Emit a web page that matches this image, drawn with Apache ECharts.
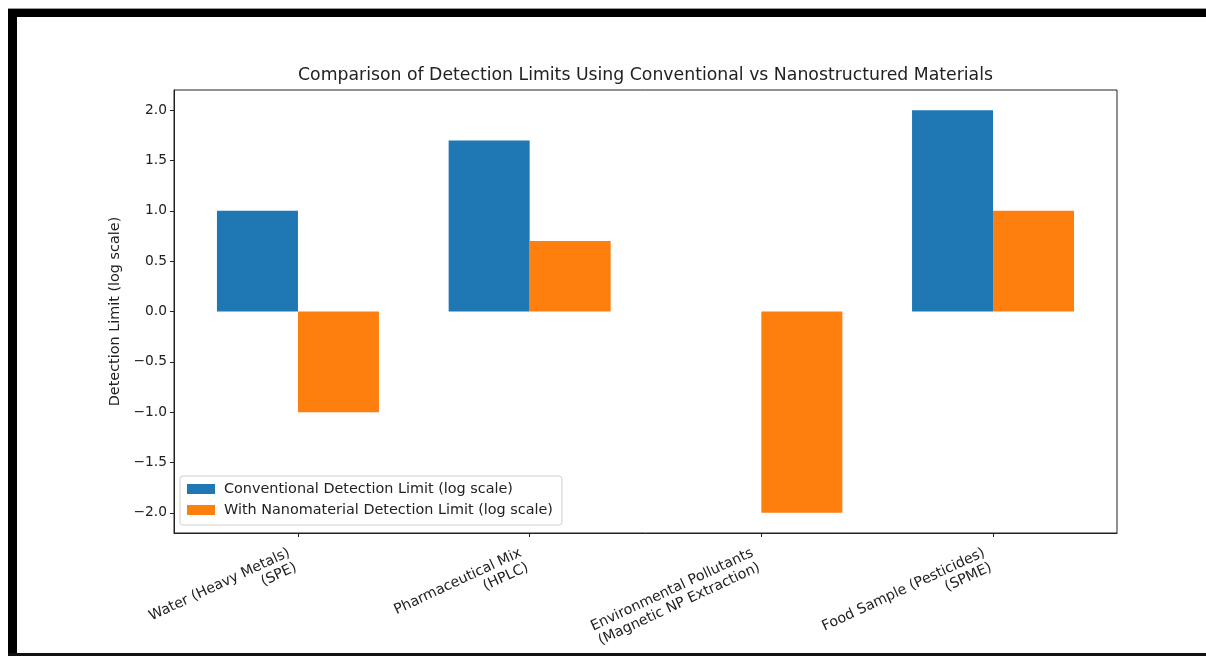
<!DOCTYPE html>
<html>
<head>
<meta charset="utf-8">
<script src="https://cdn.jsdelivr.net/npm/echarts@6/dist/echarts.min.js"></script>
<style>
html,body{margin:0;padding:0;background:#fff;}
#chart{width:1206px;height:656px;}
</style>
</head>
<body>
<div id="chart"></div>
<script>
const categories = [
  "Water (Heavy Metals)\n(SPE)",
  "Pharmaceutical Mix\n(HPLC)",
  "Environmental Pollutants\n(Magnetic NP Extraction)",
  "Food Sample (Pesticides)\n(SPME)"
];
const conventional = [1.0, 1.699, 0.0, 2.0];
const nanomaterial = [-1.0, 0.699, -2.0, 1.0];
const yTicks = [-2.0, -1.5, -1.0, -0.5, 0.0, 0.5, 1.0, 1.5, 2.0];
const xTicks = [0, 1, 2, 3];

const FONT = 'DejaVu Sans';
const chart = echarts.init(document.getElementById('chart'), null, {renderer: 'canvas'});

const fmtY = v => (Math.round(v * 10) / 10).toFixed(1).replace('-', '\u2212');

const option = {
  backgroundColor: '#fff',
  animation: false,
  textStyle: {fontFamily: FONT},
  title: {
    text: 'Comparison of Detection Limits Using Conventional vs Nanostructured Materials',
    left: 640.5, top: 62, textAlign: 'center',
    textStyle: {fontFamily: FONT, fontSize: 17.3, fontWeight: 'normal', color: '#222'}
  },
  legend: {
    orient: 'vertical',
    left: 180, top: 476,
    itemWidth: 28, itemHeight: 10, itemGap: 7,
    padding: [6, 9, 8, 7],
    borderColor: '#d0d0d0', borderWidth: 1, borderRadius: 3,
    backgroundColor: 'rgba(255,255,255,0.8)',
    icon: 'rect',
    textStyle: {fontFamily: FONT, fontSize: 14.4, color: '#222', padding: [0, 0, 0, 4]},
    data: ['Conventional Detection Limit (log scale)', 'With Nanomaterial Detection Limit (log scale)']
  },
  grid: {
    left: 174, right: 1206 - 1117, top: 90, bottom: 656 - 533,
    show: true, borderColor: '#222', borderWidth: 1, backgroundColor: 'transparent'
  },
  xAxis: {
    type: 'value', min: -0.535, max: 3.535,
    splitLine: {show: false},
    axisLine: {show: true, onZero: false, lineStyle: {color: '#222'}},
    axisTick: {show: true, length: 4, lineStyle: {color: '#222'}, customValues: xTicks},
    axisLabel: {
      show: true, rotate: 25, margin: 24, customValues: xTicks,
      fontFamily: FONT, fontSize: 14.2, color: '#222', lineHeight: 16,
      padding: [0, 6, 0, 0],
      formatter: v => categories[Math.round(v)] || ''
    }
  },
  yAxis: {
    type: 'value', min: -2.2, max: 2.2,
    name: 'Detection Limit (log scale)', nameLocation: 'middle', nameGap: 52, nameRotate: 90,
    nameTextStyle: {fontFamily: FONT, fontSize: 14.4, color: '#222'},
    splitLine: {show: false},
    axisLine: {show: true, onZero: false, lineStyle: {color: '#222'}},
    axisTick: {show: true, length: 4, lineStyle: {color: '#222'}, customValues: yTicks},
    axisLabel: {
      show: true, margin: 7, customValues: yTicks,
      fontFamily: FONT, fontSize: 13.8, color: '#222',
      formatter: v => fmtY(v)
    }
  },
  series: [
    {
      name: 'Conventional Detection Limit (log scale)',
      type: 'bar', barWidth: 81, barGap: '0%',
      itemStyle: {color: '#1f77b4'},
      data: conventional.map((v, i) => [i, v])
    },
    {
      name: 'With Nanomaterial Detection Limit (log scale)',
      type: 'bar', barWidth: 81, barGap: '0%',
      itemStyle: {color: '#ff7f0e'},
      data: nanomaterial.map((v, i) => [i, v])
    }
  ],
  graphic: [
    {type: 'rect', shape: {x: 8, y: 8, width: 1198, height: 1}, style: {fill: '#999'}, z: 100},
    {type: 'rect', shape: {x: 8, y: 9, width: 1198, height: 8}, style: {fill: '#000'}, z: 100},
    {type: 'rect', shape: {x: 8, y: 9, width: 9, height: 647}, style: {fill: '#000'}, z: 100},
    {type: 'rect', shape: {x: 8, y: 653, width: 1198, height: 3}, style: {fill: '#111'}, z: 100}
  ]
};
chart.setOption(option);
</script>
</body>
</html>
